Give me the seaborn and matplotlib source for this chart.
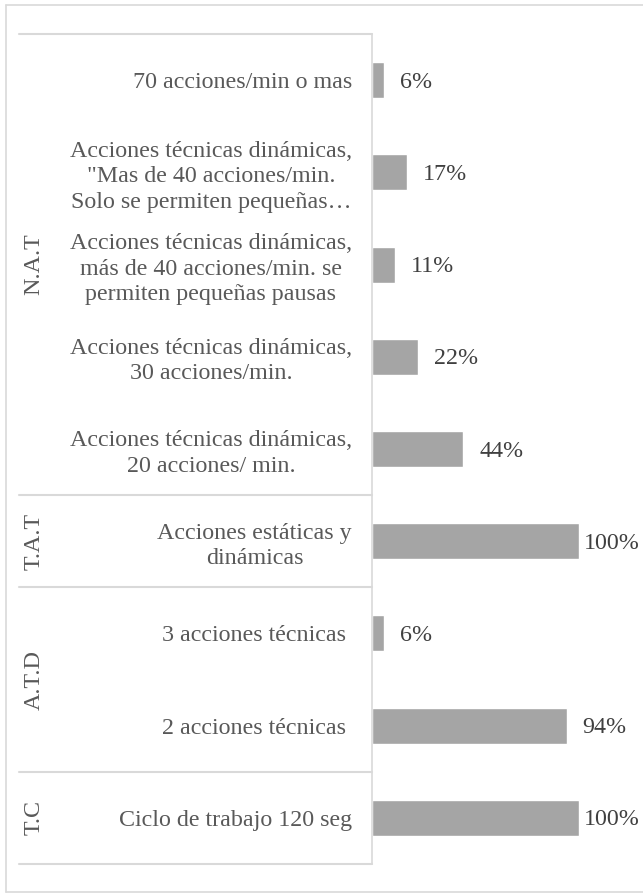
import matplotlib
matplotlib.use("Agg")
import matplotlib.pyplot as plt
import matplotlib.transforms as mtransforms
from matplotlib.lines import Line2D
import seaborn as sns
import pandas as pd

# ---- data ----
labels = [
    "70 acciones/min o mas",
    "Acciones técnicas dinámicas,\n\"Mas de 40 acciones/min.\nSolo se permiten pequeñas…",
    "Acciones técnicas dinámicas,\nmás de 40 acciones/min. se\npermiten pequeñas pausas",
    "Acciones técnicas dinámicas,\n30 acciones/min.",
    "Acciones técnicas dinámicas,\n20 acciones/ min.",
    "Acciones estáticas y\ndinámicas",
    "3 acciones técnicas ",
    "2 acciones técnicas ",
    "Ciclo de trabajo 120 seg",
]
values = [6, 17, 11, 22, 44, 100, 6, 94, 100]
groups = ["N.A.T", "T.A.T", "A.T.D", "T.C"]
group_sizes = [5, 1, 2, 1]

df = pd.DataFrame({"label": labels, "value": values})

sns.set_theme(style="white")
plt.rcParams["font.family"] = ["Liberation Serif", "DejaVu Serif"]

FS = 17.3
W, H = 643, 893
fig = plt.figure(figsize=(W / 100, H / 100), dpi=100)
ax_left, ax_right, ax_top, ax_bottom = 372, 620, 34, 864
ax = fig.add_axes([ax_left / W, 1 - ax_bottom / H, (ax_right - ax_left) / W, (ax_bottom - ax_top) / H])

bar_color = "#A5A5A5"
line_color = "#D9D9D9"
text_color = "#595959"

sns.barplot(data=df, x="value", y="label", order=labels, color=bar_color,
            saturation=1, width=0.39, ax=ax, orient="h")

px_per_unit = 207 / 100.0
ax.set_xlim(0, (ax_right - ax_left) / px_per_unit)
ax.set_ylim(len(labels) - 0.5, -0.5)
ax.set_xlabel("")
ax.set_ylabel("")
ax.set_xticks([])
for s in ["top", "right", "bottom"]:
    ax.spines[s].set_visible(False)
ax.spines["left"].set_color(line_color)
ax.spines["left"].set_linewidth(1.2)

ax.tick_params(axis="y", left=False, length=0, pad=14.4, labelsize=FS, labelcolor=text_color)
for t in ax.get_yticklabels():
    t.set_multialignment("center")
    t.set_linespacing(1.26)

# data labels
fig.canvas.draw()
renderer = fig.canvas.get_renderer()
for i, v in enumerate(values):
    t = ax.annotate(f"{v}%", xy=(v, i), xytext=(11.5, -1.5), textcoords="offset points",
                    ha="left", va="center", fontsize=FS, color="#404040",
                    annotation_clip=False)
    bb = t.get_window_extent(renderer)
    limit = 640
    if bb.x1 > limit:
        shift = (bb.x1 - limit) * 72 / 100
        t.set_position((11.5 - shift, -1.5))

# group separators and labels
blend = mtransforms.blended_transform_factory(fig.transFigure, ax.transData)
bounds = [-0.5]
for n in group_sizes:
    bounds.append(bounds[-1] + n)
for b in bounds:
    fig.add_artist(Line2D([19 / W, ax_left / W], [b, b], transform=blend,
                          color=line_color, lw=1.5, clip_on=False))
for g, lo, hi in zip(groups, bounds[:-1], bounds[1:]):
    fig.text(34 / W, (lo + hi) / 2, g, transform=blend, rotation=90,
             ha="center", va="center", fontsize=FS, color=text_color)

# outer border
fig.add_artist(Line2D([6 / W, 6 / W], [1 - 892 / H, 1 - 5 / H], transform=fig.transFigure,
                      color=line_color, lw=1.2))
fig.add_artist(Line2D([6 / W, 1], [1 - 5 / H, 1 - 5 / H], transform=fig.transFigure,
                      color=line_color, lw=1.2))
fig.add_artist(Line2D([6 / W, 1], [1 - 892 / H, 1 - 892 / H], transform=fig.transFigure,
                      color=line_color, lw=1.2))

fig.savefig("out.png", dpi=100)
